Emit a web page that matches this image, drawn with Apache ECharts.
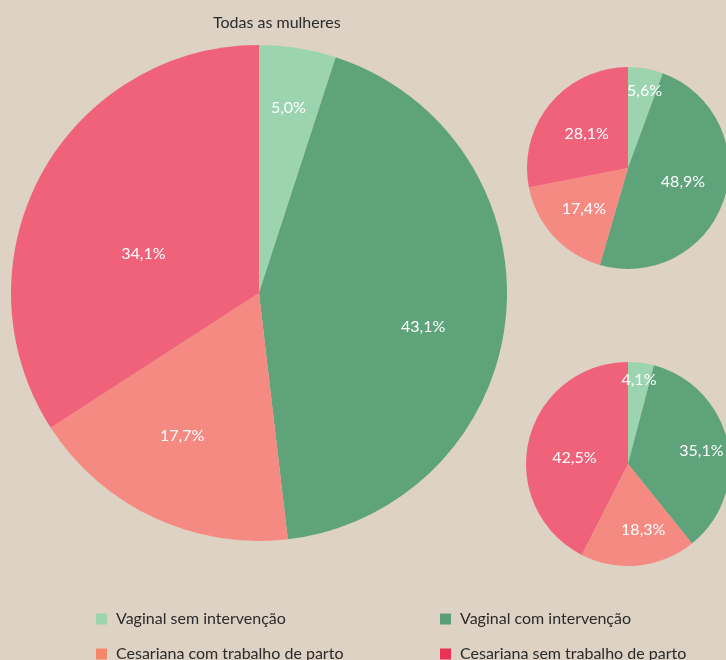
<!DOCTYPE html>
<html>
<head>
<meta charset="utf-8">
<script src="https://cdn.jsdelivr.net/npm/echarts@6/dist/echarts.min.js"></script>
<style>
  html, body { margin: 0; padding: 0; background: #ddd2c3; }
  #chart { width: 726px; height: 660px; }
</style>
</head>
<body>
<div id="chart"></div>
<script>
// data
const categories = [
  "Vaginal sem intervenção",
  "Vaginal com intervenção",
  "Cesariana com trabalho de parto",
  "Cesariana sem trabalho de parto"
];
const allWomen = [5.0, 43.1, 17.7, 34.1];
const groupA = [5.6, 48.9, 17.4, 28.1];
const groupB = [4.1, 35.1, 18.3, 42.5];

// styles
const sliceColors = ["#9dd4b0", "#5ea37a", "#f58a82", "#f0627a"];
const legendColors = ["#9dd4ae", "#5a9e78", "#f4866b", "#ec3157"];
const font = "Lato, 'Noto Sans', sans-serif";

// label placement tweaks: radius fraction and angle nudge (deg, clockwise)
const labelFrac = [
  [0.74, 0.66, 0.64, 0.48],
  [0.74, 0.53, 0.56, 0.5],
  [0.79, 0.69, 0.63, 0.5]
];
const labelTurn = [
  [0, 6, 3, -10],
  [2, -4, 0, 0],
  [0, 2, -7, -7]
];

const pies = [
  { values: allWomen, center: [259, 293], radius: 248 },
  { values: groupA, center: [628, 168], radius: 101 },
  { values: groupB, center: [628, 464], radius: 102 }
];

const fmt = v => v.toFixed(1).replace(".", ",") + "%";

const chart = echarts.init(document.getElementById("chart"));

const series = pies.map((p, si) => ({
  type: "pie",
  center: p.center,
  radius: [0, p.radius],
  startAngle: 90,
  clockwise: true,
  animation: false,
  silent: true,
  data: p.values.map((v, i) => ({
    name: categories[i],
    value: v,
    itemStyle: { color: sliceColors[i] }
  })),
  label: {
    show: true,
    position: "inside",
    color: "#fff",
    fontFamily: font,
    fontSize: 16,
    fontWeight: 400,
    formatter: d => fmt(d.value)
  },
  labelLine: { show: false },
  labelLayout: params => {
    const r = params.labelRect;
    const k = labelFrac[si][params.dataIndex] / 0.5;
    const dx = (r.x + r.width / 2 - p.center[0]) * k;
    const dy = (r.y + r.height / 2 - p.center[1]) * k;
    const t = labelTurn[si][params.dataIndex] * Math.PI / 180;
    return {
      x: p.center[0] + dx * Math.cos(t) - dy * Math.sin(t),
      y: p.center[1] + dx * Math.sin(t) + dy * Math.cos(t)
    };
  }
}));

// one legend per entry so the 2x2 grid lines up like the original
const legendPos = [[91, 606], [435, 606], [91, 641], [435, 641]];
const legends = categories.map((c, i) => ({
  left: legendPos[i][0],
  top: legendPos[i][1],
  itemWidth: 11,
  itemHeight: 11,
  icon: "rect",
  selectedMode: false,
  data: [{ name: c, itemStyle: { color: legendColors[i], opacity: 1 } }],
  textStyle: {
    color: "#2b2b2b",
    fontFamily: font,
    fontSize: 16,
    padding: [0, 0, 0, 4]
  }
}));

chart.setOption({
  backgroundColor: "#ddd2c3",
  title: {
    text: "Todas as mulheres",
    left: 208,
    top: 10,
    textStyle: { color: "#2b2b2b", fontFamily: font, fontSize: 16, fontWeight: "normal" }
  },
  legend: legends,
  series: series
});
</script>
</body>
</html>
